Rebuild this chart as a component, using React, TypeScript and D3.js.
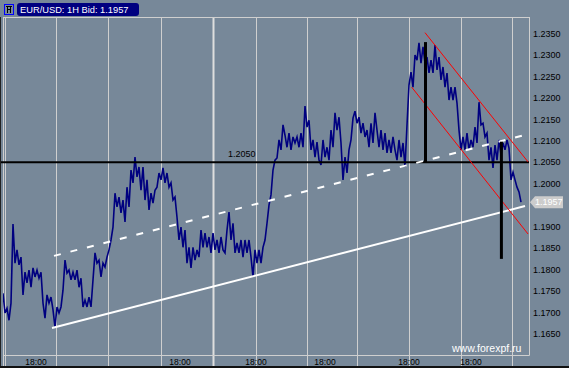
import React, { useEffect } from 'react';
import * as d3 from 'd3';

const W = 569;
const H = 368;

const title = 'EUR/USD: 1H Bid: 1.1957';
const watermark = 'www.forexpf.ru';

// hourly bid prices (zig-zag of highs / lows), bar index 0..259
const prices: number[] = [
  1.1745, 1.1699, 1.1710, 1.1682, 1.1722, 1.1906, 1.1815, 1.1846, 1.1811, 1.1829,
  1.1741, 1.1794, 1.1769, 1.1799, 1.1759, 1.1804, 1.1783, 1.1799, 1.1780, 1.1794,
  1.1722, 1.1687, 1.1741, 1.1722, 1.1736, 1.1706, 1.1666, 1.1713, 1.1699, 1.1713,
  1.1752, 1.1822, 1.1792, 1.1799, 1.1776, 1.1794, 1.1776, 1.1799, 1.1759, 1.1780,
  1.1713, 1.1729, 1.1713, 1.1736, 1.1713, 1.1776, 1.1839, 1.1815, 1.1822, 1.1783,
  1.1815, 1.1806, 1.1829, 1.1846, 1.1869, 1.1899, 1.1978, 1.1946, 1.1969, 1.1932,
  1.1962, 1.1911, 1.1992, 1.1946, 1.2032, 1.2002, 1.2062, 1.2016, 1.2039, 1.1985,
  1.2039, 1.1962, 1.2009, 1.1939, 1.1978, 1.1955, 1.1985, 1.1992, 1.2025, 1.2009,
  1.2037, 1.2002, 1.2025, 1.1992, 1.2002, 1.1962, 1.1969, 1.1922, 1.1869, 1.1899,
  1.1852, 1.1892, 1.1815, 1.1852, 1.1804, 1.1852, 1.1822, 1.1846, 1.1829, 1.1892,
  1.1852, 1.1885, 1.1852, 1.1876, 1.1839, 1.1885, 1.1846, 1.1869, 1.1839, 1.1876,
  1.1846, 1.1839, 1.1892, 1.1934, 1.1869, 1.1908, 1.1839, 1.1862, 1.1839, 1.1869,
  1.1829, 1.1869, 1.1839, 1.1869, 1.1829, 1.1783, 1.1846, 1.1815, 1.1846, 1.1815,
  1.1852, 1.1869, 1.1908, 1.1950, 1.1974, 1.2032, 1.2055, 1.2060, 1.2102, 1.2079,
  1.2137, 1.2113, 1.2085, 1.2118, 1.2079, 1.2109, 1.2095, 1.2109, 1.2085, 1.2118,
  1.2085, 1.2181, 1.2132, 1.2148, 1.2079, 1.2102, 1.2062, 1.2097, 1.2055, 1.2044,
  1.2102, 1.2062, 1.2085, 1.2055, 1.2125, 1.2085, 1.2165, 1.2125, 1.2155, 1.2095,
  1.2009, 1.2062, 1.2025, 1.2079, 1.2102, 1.2153, 1.2169, 1.2141, 1.2155, 1.2118,
  1.2141, 1.2109, 1.2125, 1.2085, 1.2141, 1.2095, 1.2165, 1.2125, 1.2085, 1.2125,
  1.2079, 1.2118, 1.2072, 1.2102, 1.2072, 1.2109, 1.2079, 1.2055, 1.2102, 1.2062,
  1.2095, 1.2039, 1.2137, 1.2230, 1.2260, 1.2225, 1.2300, 1.2288, 1.2328, 1.2281,
  1.2319, 1.2281, 1.2295, 1.2258, 1.2288, 1.2258, 1.2323, 1.2265, 1.2295, 1.2242,
  1.2272, 1.2225, 1.2258, 1.2195, 1.2225, 1.2195, 1.2225, 1.2188, 1.2125, 1.2079,
  1.2109, 1.2079, 1.2118, 1.2079, 1.2102, 1.2085, 1.2132, 1.2095, 1.2190, 1.2137,
  1.2141, 1.2109, 1.2118, 1.2055, 1.2085, 1.2037, 1.2090, 1.2055, 1.2102, 1.2067,
  1.2095, 1.2079, 1.2102, 1.2083, 1.2009, 1.2027, 1.2009, 1.1992, 1.1981, 1.1957,
];

const yTicks: number[] = [1.235, 1.23, 1.225, 1.22, 1.215, 1.21, 1.205, 1.2, 1.195, 1.19, 1.185, 1.18, 1.175, 1.17, 1.165];
const timeGrid: number[] = [1, 26.5, 52.5, 78.75, 105, 126.5, 151.75, 177, 202.75, 228.75, 254.5];
const weekBreak = 105;
const timeLabelPos: number[] = [16.5, 88.5, 126.5, 161, 203, 234];
const timeLabelText: string[] = ['18:00', '18:00', '18:00', '18:00', '18:00', '18:00'];

const levelPrice = 1.205;
const lastPrice = 1.1957;
const supportLine: [number, number][] = [[24.5, 1.1664], [261, 1.1948]];
const dashedLine: [number, number][] = [[25.5, 1.1832], [263, 1.2116]];
const channelUpper: [number, number][] = [[211, 1.2352], [262.5, 1.2051]];
const channelLower: [number, number][] = [[204.35, 1.2225], [262.5, 1.1883]];
const verticalMarks: [number, number, number][] = [[211.25, 1.233, 1.205], [249.2, 1.2098, 1.1825]];

const BG = '#778899';
const GRID = '#cfcfcf';
const FONT = '"Liberation Sans", Arial, sans-serif';

export default function App() {
  useEffect(() => {
    document.body.style.margin = '0';
  }, []);

  const left = 3, right = 529, top = 17, bottom = 355;
  const x = d3.scaleLinear().domain([0, prices.length - 1]).range([3, 521]);
  const y = d3.scaleLinear().domain([1.165, 1.235]).range([334, 33.5]);

  const line = d3.line<number>().x((_, i) => x(i)).y((d) => y(d));
  const seg = d3.line<[number, number]>().x((d) => x(d[0])).y((d) => y(d[1]));

  const yLast = y(lastPrice);
  const shownTicks = yTicks.filter((t) => Math.abs(y(t) - yLast) > 10);

  return (
    <svg width={W} height={H} style={{ position: 'absolute', left: 0, top: 0, display: 'block' }}>
      <defs>
        <clipPath id="plot">
          <rect x={left} y={top} width={right - left} height={bottom - top} />
        </clipPath>
      </defs>
      <rect x={0} y={0} width={W} height={H} fill={BG} />

      {/* vertical grid */}
      {timeGrid.map((t, i) => (
        <line key={i} x1={Math.round(x(t)) + 0.5} x2={Math.round(x(t)) + 0.5} y1={top} y2={H}
          stroke={t === weekBreak ? '#dedede' : GRID} strokeWidth={t === weekBreak ? 2 : 1} />
      ))}
      {/* frame */}
      <line x1={left + 0.5} x2={left + 0.5} y1={top} y2={H} stroke={GRID} />
      <line x1={left} x2={right + 0.5} y1={top + 0.5} y2={top + 0.5} stroke={GRID} />
      <line x1={right + 0.5} x2={right + 0.5} y1={top} y2={bottom + 0.5} stroke={GRID} />
      <line x1={left} x2={right + 0.5} y1={bottom + 0.5} y2={bottom + 0.5} stroke={GRID} />
      <line x1={0.5} x2={0.5} y1={top} y2={H} stroke="#222" />
      <line x1={0} x2={W} y1={H - 1} y2={H - 1} stroke="#111" strokeWidth={2} />

      {/* price series */}
      <g clipPath="url(#plot)">
        <path d={line(prices) || ''} fill="none" stroke="#000080" strokeWidth={1.6} strokeLinejoin="miter" />
      </g>

      {/* horizontal level */}
      <line x1={1} x2={right} y1={y(levelPrice)} y2={y(levelPrice)} stroke="#000" strokeWidth={2} />
      <text x={228} y={y(levelPrice) - 5} fontFamily={FONT} fontSize={9} fill="#000">
        {levelPrice.toFixed(4)}
      </text>

      {/* trend lines */}
      <path d={seg(supportLine) || ''} stroke="#fff" strokeWidth={2} fill="none" />
      <path d={seg(dashedLine) || ''} stroke="#fff" strokeWidth={2} fill="none" strokeDasharray="7 10" />
      <path d={seg(channelUpper) || ''} stroke="#ff0000" strokeWidth={1} fill="none" />
      <path d={seg(channelLower) || ''} stroke="#ff0000" strokeWidth={1} fill="none" />
      {verticalMarks.map((m, i) => (
        <line key={i} x1={x(m[0])} x2={x(m[0])} y1={y(m[1])} y2={y(m[2])} stroke="#000" strokeWidth={3} />
      ))}

      {/* y axis labels */}
      {shownTicks.map((t, i) => (
        <text key={i} x={533} y={y(t)} dy="0.35em" fontFamily={FONT} fontSize={9} fill="#000">
          {t.toFixed(4)}
        </text>
      ))}

      {/* last price marker */}
      <path d={`M530,${yLast} L535,${yLast - 6} L563,${yLast - 6} L563,${yLast + 6} L535,${yLast + 6} Z`} fill="#cccccc" />
      <text x={535} y={yLast} dy="0.36em" fontFamily={FONT} fontSize={9} fill="#fff">
        {lastPrice.toFixed(4)}
      </text>

      {/* time labels */}
      {timeLabelPos.map((t, i) => (
        <text key={i} x={x(t)} y={365} textAnchor="middle" fontFamily={FONT} fontSize={8.5} fill="#000">
          {timeLabelText[i]}
        </text>
      ))}

      {/* watermark */}
      <text x={452} y={352} fontFamily={FONT} fontSize={10.5} fill="#fff">{watermark}</text>

      {/* title */}
      <rect x={17} y={3} width={122} height={13} rx={3} fill="#000080" />
      <text x={20} y={13} fontFamily={FONT} fontSize={9.3} fill="#fff">{title}</text>
      {/* icon */}
      <rect x={4.5} y={4.5} width={9} height={10} fill="none" stroke="#0000ff" />
      <path d="M7.5,6 L7.5,13 M10.5,6 L10.5,13 M6,6.5 L12,6.5 M7.5,9.5 L10.5,9.5" stroke="#000" strokeWidth={1} fill="none" />
    </svg>
  );
}
